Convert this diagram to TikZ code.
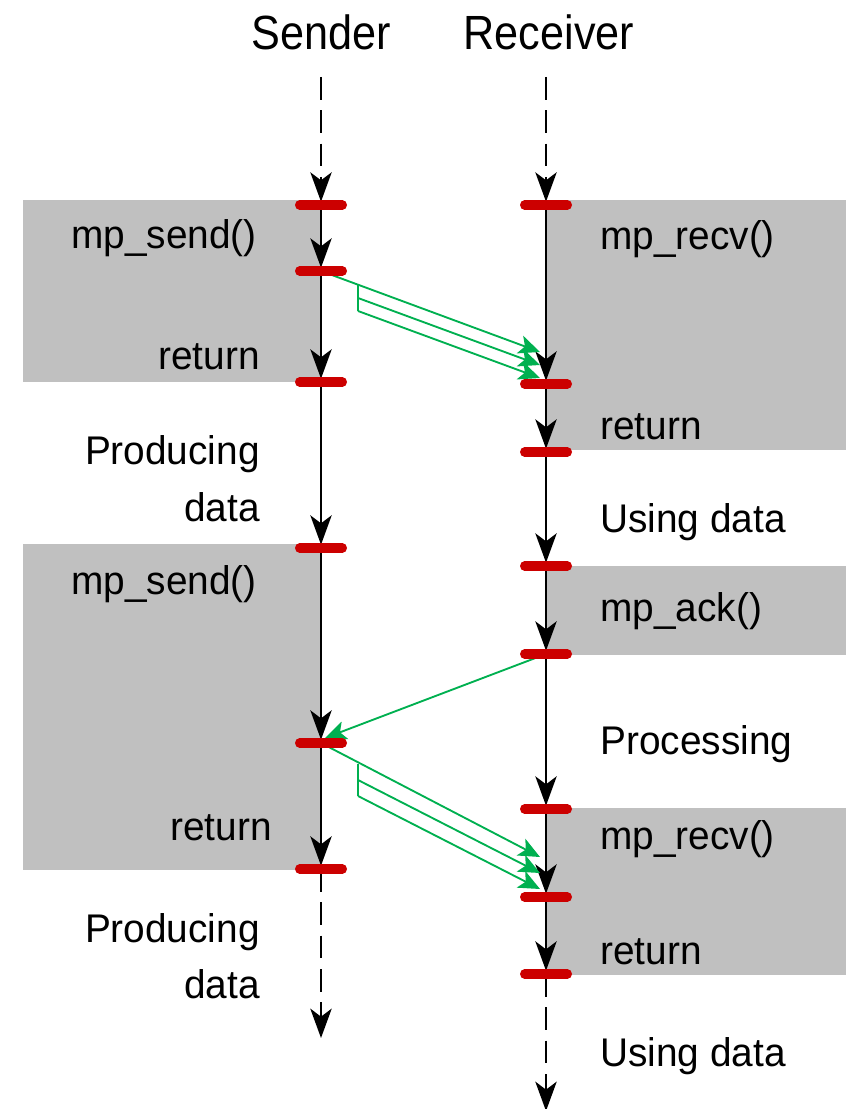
\documentclass[tikz,border=0pt]{standalone}
\usepackage{fontspec}
\setmainfont[FakeStretch=0.97]{Liberation Sans}
\newfontfamily\titlefont[FakeStretch=0.9]{Liberation Sans}
\usetikzlibrary{arrows.meta}
\definecolor{tickred}{HTML}{CC0000}
\definecolor{msggreen}{HTML}{00B050}
\definecolor{callgray}{HTML}{C0C0C0}
\begin{document}
\begin{tikzpicture}[x=0.75pt,y=-0.75pt,
  callbox/.style={fill=callgray},
  flow/.style={line width=1.7pt,-{Stealth[length=22pt,width=16pt,inset=6pt]},shorten >=2.5pt},
  idle/.style={flow,dash pattern=on 17pt off 8pt},
  msg/.style={draw=msggreen,line width=1.4pt},
  msgarrow/.style={msg,-{Stealth[length=16pt,width=14pt,inset=4pt]}},
  tick/.style={draw=tickred,line width=7pt,line cap=round},
  lbl/.style={font=\fontsize{30}{36}\selectfont,inner sep=0pt},
  heading/.style={font=\titlefont\fontsize{36}{42}\selectfont,inner sep=0pt}]
\useasboundingbox (0,0) rectangle (846,1109);

% time points on the sender line
\coordinate (s0) at (321,77);
\coordinate (s1) at (321,205);
\coordinate (s2) at (321,271);
\coordinate (s3) at (321,382);
\coordinate (s4) at (321,548);
\coordinate (s5) at (321,743);
\coordinate (s6) at (321,869);
\coordinate (s7) at (321,1038);
% time points on the receiver line
\coordinate (r0) at (546,77);
\coordinate (r1) at (546,205);
\coordinate (r2) at (546,384);
\coordinate (r3) at (546,452);
\coordinate (r4) at (546,566);
\coordinate (r5) at (546,654);
\coordinate (r6) at (546,809);
\coordinate (r7) at (546,897);
\coordinate (r8) at (546,974);
\coordinate (r9) at (546,1111);

% library calls
\fill[callbox] (23,200) rectangle (321,382);
\fill[callbox] (23,544) rectangle (321,870);
\fill[callbox] (546,200) rectangle (846,450);
\fill[callbox] (546,566) rectangle (846,655);
\fill[callbox] (546,808) rectangle (846,975);

% headings
\node[heading,anchor=base] (hs) at (321,50) {Sender};
\node[heading,anchor=base] (hr) at (549,50) {Receiver};

% sender timeline
\draw[idle] (s0) -- (s1);
\draw[flow] (s1) -- (s2);
\draw[flow] (s2) -- (s3);
\draw[flow] (s3) -- (s4);
\draw[flow] (s4) -- (s5);
\draw[flow] (s5) -- (s6);
\draw[idle,shorten >=0pt] (s6) -- (s7);
% receiver timeline
\draw[idle] (r0) -- (r1);
\draw[flow] (r1) -- (r2);
\draw[flow] (r2) -- (r3);
\draw[flow] (r3) -- (r4);
\draw[flow] (r4) -- (r5);
\draw[flow] (r5) -- (r6);
\draw[flow] (r6) -- (r7);
\draw[flow] (r7) -- (r8);
\draw[idle,shorten >=0pt] (r8) -- (r9);

% first message: three packets
\coordinate (a1) at (358,284.7);
\coordinate (a2) at (358,298);
\coordinate (a3) at (358,311);
\coordinate (a1e) at (540,352);
\coordinate (a2e) at (540,365);
\coordinate (a3e) at (540,378);
\draw[msg] (a1) -- (a3);
\draw[msgarrow] (s2) -- (a1e);
\draw[msgarrow] (a2) -- (a2e);
\draw[msgarrow] (a3) -- (a3e);

% acknowledgement
\coordinate (ke) at (325,738);
\draw[msgarrow] (r5) -- (ke);

% second message: three packets
\coordinate (b1) at (358,764);
\coordinate (b2) at (358,780);
\coordinate (b3) at (358,796);
\coordinate (b1e) at (540,857);
\coordinate (b2e) at (540,873);
\coordinate (b3e) at (540,889);
\draw[msg] (b1) -- (b3);
\draw[msgarrow] (s5) -- (b1e);
\draw[msgarrow] (b2) -- (b2e);
\draw[msgarrow] (b3) -- (b3e);

% event ticks
\foreach \p in {s1,s2,s3,s4,s5,s6,r1,r2,r3,r4,r5,r6,r7,r8}
  \draw[tick] ([xshift=-16pt]\p) -- ([xshift=16pt]\p);

% sender labels
\node[lbl,anchor=base east] (l1) at (257,248) {mp\_send()};
\node[lbl,anchor=base east] (l2) at (260,369) {return};
\node[lbl,anchor=base east] (l3) at (260,464) {Producing};
\node[lbl,anchor=base east] (l4) at (260,521) {data};
\node[lbl,anchor=base east] (l5) at (257,594) {mp\_send()};
\node[lbl,anchor=base east] (l6) at (272,840) {return};
\node[lbl,anchor=base east] (l7) at (260,942) {Producing};
\node[lbl,anchor=base east] (l8) at (260,998) {data};
% receiver labels
\node[lbl,anchor=base west] (m1) at (600,249) {mp\_recv()};
\node[lbl,anchor=base west] (m2) at (600,439) {return};
\node[lbl,anchor=base west] (m3) at (600,532) {Using data};
\node[lbl,anchor=base west] (m4) at (600,621) {mp\_ack()};
\node[lbl,anchor=base west] (m5) at (600,754) {Processing};
\node[lbl,anchor=base west] (m6) at (600,849) {mp\_recv()};
\node[lbl,anchor=base west] (m7) at (600,964) {return};
\node[lbl,anchor=base west] (m8) at (600,1066) {Using data};
\end{tikzpicture}
\end{document}
